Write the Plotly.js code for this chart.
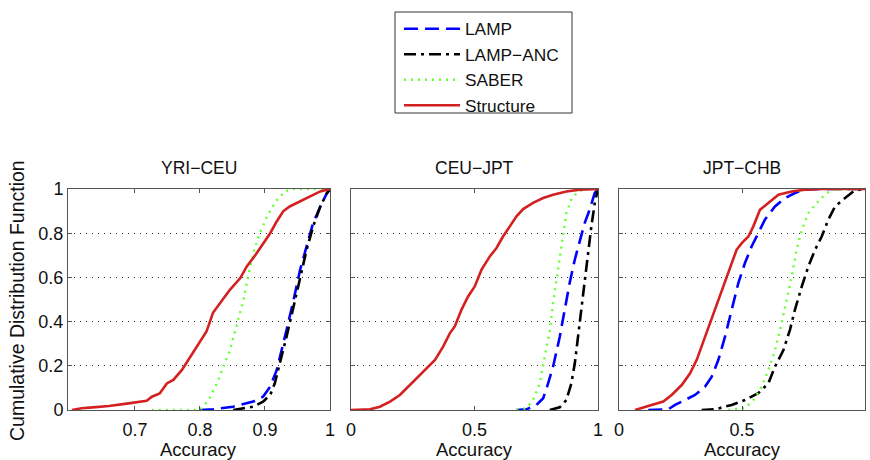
<!DOCTYPE html>
<html>
<head>
<meta charset="utf-8">
<script src="https://cdn.plot.ly/plotly-3.0.1.min.js"></script>
<style>html,body{margin:0;padding:0;background:#fff;}#chart{width:870px;height:460px;}</style>
</head>
<body>
<div id="chart"></div>
<script>
// ---- Data ----
const panelTitles = ["YRI\u2212CEU", "CEU\u2212JPT", "JPT\u2212CHB"];
const seriesNames = ["LAMP", "LAMP\u2212ANC", "SABER", "Structure"];

// Panel 1: YRI-CEU
const p1_lamp_x = [0.80,0.82,0.851,0.882,0.897,0.908,0.918,0.926,0.933,0.944,0.954,0.964,0.974,0.985,0.995,1.0];
const p1_lamp_y = [0,0.003,0.015,0.038,0.06,0.106,0.18,0.27,0.36,0.498,0.634,0.74,0.846,0.92,0.98,1.0];
const p1_anc_x = [0.851,0.882,0.897,0.908,0.915,0.923,0.933,0.944,0.954,0.964,0.974,0.985,0.995,1.0];
const p1_anc_y = [0,0.015,0.038,0.068,0.12,0.21,0.33,0.468,0.604,0.725,0.83,0.92,0.98,1.0];
const p1_saber_x = [0.726,0.80,0.813,0.826,0.836,0.846,0.856,0.867,0.874,0.882,0.892,0.903,0.918,0.931,0.944,1.0];
const p1_saber_y = [0,0,0.045,0.12,0.196,0.27,0.378,0.498,0.604,0.71,0.80,0.876,0.95,0.99,1.0,1.0];
const p1_struct_x = [0.603,0.618,0.635,0.66,0.69,0.718,0.726,0.738,0.749,0.759,0.772,0.785,0.797,0.81,0.82,0.831,0.846,0.862,0.872,0.885,0.897,0.908,0.918,0.928,0.938,0.954,0.969,0.985,1.0];
const p1_struct_y = [0,0.008,0.012,0.018,0.03,0.042,0.06,0.075,0.12,0.136,0.18,0.24,0.30,0.355,0.44,0.483,0.544,0.597,0.65,0.70,0.755,0.80,0.853,0.899,0.921,0.944,0.967,0.989,1.0];

// Panel 2: CEU-JPT
const p2_lamp_x = [0.67,0.71,0.751,0.778,0.798,0.818,0.845,0.865,0.885,0.906,0.926,0.946,0.966,0.987,1.0];
const p2_lamp_y = [0,0.003,0.023,0.053,0.12,0.196,0.33,0.453,0.574,0.68,0.77,0.846,0.906,0.982,1.0];
const p2_anc_x = [0.805,0.845,0.872,0.892,0.906,0.919,0.933,0.946,0.96,0.973,0.987,1.0];
const p2_anc_y = [0,0.012,0.045,0.12,0.21,0.33,0.468,0.604,0.725,0.83,0.937,1.0];
const p2_saber_x = [0.67,0.71,0.737,0.764,0.784,0.805,0.818,0.832,0.845,0.858,0.872,0.892,0.919,0.953,1.0];
const p2_saber_y = [0,0.008,0.045,0.12,0.24,0.36,0.483,0.589,0.695,0.80,0.891,0.952,0.989,1.0,1.0];
const p2_struct_x = [0,0.077,0.117,0.158,0.198,0.239,0.279,0.306,0.34,0.373,0.40,0.42,0.447,0.474,0.501,0.528,0.562,0.589,0.616,0.643,0.67,0.697,0.737,0.778,0.818,0.872,0.926,1.0];
const p2_struct_y = [0,0.003,0.015,0.038,0.068,0.113,0.159,0.189,0.227,0.287,0.347,0.378,0.453,0.514,0.559,0.634,0.695,0.733,0.786,0.831,0.876,0.909,0.937,0.959,0.974,0.989,0.997,1.0];

// Panel 3: JPT-CHB
const p3_lamp_x = [0.119,0.2,0.228,0.268,0.309,0.35,0.377,0.404,0.431,0.458,0.485,0.512,0.539,0.566,0.593,0.634,0.675,0.715,0.756,0.824,1.0];
const p3_lamp_y = [0,0.003,0.023,0.045,0.068,0.106,0.151,0.227,0.332,0.453,0.574,0.665,0.74,0.80,0.861,0.921,0.959,0.982,0.997,1.0,1.0];
const p3_anc_x = [0.336,0.39,0.458,0.512,0.566,0.607,0.634,0.668,0.695,0.715,0.743,0.77,0.797,0.824,0.851,0.878,0.919,0.953,0.986,1.0];
const p3_anc_y = [0,0.003,0.023,0.045,0.076,0.12,0.196,0.27,0.363,0.453,0.559,0.65,0.725,0.785,0.861,0.921,0.959,0.989,1.0,1.0];
const p3_saber_x = [0.444,0.512,0.546,0.58,0.607,0.634,0.661,0.682,0.702,0.722,0.743,0.77,0.804,0.837,0.864,1.0];
const p3_saber_y = [0,0.008,0.045,0.106,0.18,0.27,0.393,0.498,0.604,0.725,0.815,0.891,0.937,0.974,0.997,1.0];
const p3_struct_x = [0.065,0.106,0.146,0.18,0.214,0.255,0.289,0.316,0.343,0.377,0.404,0.424,0.451,0.478,0.499,0.526,0.546,0.573,0.607,0.648,0.702,0.756,0.824,1.0];
const p3_struct_y = [0,0.012,0.027,0.038,0.068,0.113,0.166,0.227,0.31,0.408,0.498,0.559,0.634,0.725,0.755,0.785,0.831,0.906,0.937,0.974,0.989,0.997,1.0,1.0];

const yTicks = [0, 0.2, 0.4, 0.6, 0.8, 1];
const yTickText = ["0", "0.2", "0.4", "0.6", "0.8", "1"];
const x1Ticks = [0.7, 0.8, 0.9, 1];
const x1TickText = ["0.7", "0.8", "0.9", "1"];
const x23Ticks = [0, 0.5, 1];
const x23TickText = ["0", "0.5", "1"];

// ---- Styles ----
const FONT = "Liberation Sans, Arial, Helvetica, sans-serif";
const styles = [
  {color: "#0000ff", dash: "14px,7px", width: 2.6},
  {color: "#000000", dash: "12px,5px,3px,5px", width: 2.6},
  {color: "#66ff33", dash: "2px,5px", width: 2.4},
  {color: "#d42020", dash: "solid", width: 2.6}
];

const panels = [
  [[p1_lamp_x,p1_lamp_y],[p1_anc_x,p1_anc_y],[p1_saber_x,p1_saber_y],[p1_struct_x,p1_struct_y]],
  [[p2_lamp_x,p2_lamp_y],[p2_anc_x,p2_anc_y],[p2_saber_x,p2_saber_y],[p2_struct_x,p2_struct_y]],
  [[p3_lamp_x,p3_lamp_y],[p3_anc_x,p3_anc_y],[p3_saber_x,p3_saber_y],[p3_struct_x,p3_struct_y]]
];

const traces = [];
panels.forEach((p, pi) => {
  p.forEach((s, si) => {
    traces.push({
      type: "scatter", mode: "lines",
      x: s[0], y: s[1],
      name: seriesNames[si],
      legendgroup: seriesNames[si],
      showlegend: pi === 0,
      xaxis: pi === 0 ? "x" : "x" + (pi + 1),
      yaxis: pi === 0 ? "y" : "y" + (pi + 1),
      line: {color: styles[si].color, dash: styles[si].dash, width: styles[si].width},
      hoverinfo: "skip"
    });
  });
});

const W = 870, H = 460;
const xDomains = [[68/W, 330/W], [351/W, 598/W], [619/W, 865/W]];
const yDomain = [(H-410)/H, (H-189)/H];

function xaxisDef(i) {
  return {
    domain: xDomains[i],
    range: i === 0 ? [0.597, 1] : [0, 1],
    tickvals: i === 0 ? x1Ticks : x23Ticks,
    ticktext: i === 0 ? x1TickText : x23TickText,
    ticks: "inside", ticklen: 4, tickcolor: "#555",
    showline: true, linecolor: "#555", linewidth: 1, mirror: "ticks",
    showgrid: false, zeroline: false,
    tickfont: {family: FONT, size: 18, color: "#111"},
    ticklabelstandoff: 3,
    anchor: i === 0 ? "y" : "y" + (i + 1)
  };
}
function yaxisDef(i) {
  return {
    domain: yDomain,
    range: [0, 1],
    tickvals: yTicks, ticktext: yTickText,
    showticklabels: i === 0,
    ticks: "inside", ticklen: 4, tickcolor: "#555",
    showline: true, linecolor: "#555", linewidth: 1, mirror: "ticks",
    showgrid: true, gridcolor: "#333", griddash: "1px,5px", gridwidth: 1,
    zeroline: false,
    tickfont: {family: FONT, size: 18, color: "#111"},
    anchor: i === 0 ? "x" : "x" + (i + 1)
  };
}

const annotations = [];
panelTitles.forEach((t, i) => {
  annotations.push({
    text: t, xref: "paper", yref: "paper",
    x: (xDomains[i][0] + xDomains[i][1]) / 2, y: (H - 168) / H,
    xanchor: "center", yanchor: "middle", showarrow: false,
    font: {family: FONT, size: 17.5, color: "#111"}
  });
  annotations.push({
    text: "Accuracy", xref: "paper", yref: "paper",
    x: (xDomains[i][0] + xDomains[i][1]) / 2, y: (H - 449) / H,
    xanchor: "center", yanchor: "middle", showarrow: false,
    font: {family: FONT, size: 18.5, color: "#111"}
  });
});
annotations.push({
  text: "Cumulative Distribution Function", xref: "paper", yref: "paper",
  x: 17 / W, y: (H - 301) / H, textangle: -90,
  xanchor: "center", yanchor: "middle", showarrow: false,
  font: {family: FONT, size: 19.5, color: "#111"}
});

const layout = {
  width: W, height: H,
  margin: {l: 0, r: 0, t: 0, b: 0},
  paper_bgcolor: "#fff", plot_bgcolor: "#fff",
  showlegend: true,
  legend: {
    x: 399 / W, y: (H - 11) / H, xanchor: "left", yanchor: "top",
    borderwidth: 0, bgcolor: "rgba(0,0,0,0)",
    font: {family: FONT, size: 17.3, color: "#111"},
    itemwidth: 56, tracegroupgap: 0
  },
  shapes: [{
    type: "rect", xref: "paper", yref: "paper",
    x0: 395 / W, x1: 572 / W, y0: (H - 113) / H, y1: (H - 12) / H,
    line: {color: "#333", width: 1}, fillcolor: "rgba(0,0,0,0)"
  }],
  xaxis: xaxisDef(0), yaxis: yaxisDef(0),
  xaxis2: xaxisDef(1), yaxis2: yaxisDef(1),
  xaxis3: xaxisDef(2), yaxis3: yaxisDef(2),
  annotations: annotations
};

Plotly.newPlot("chart", traces, layout, {staticPlot: true, displayModeBar: false});
</script>
</body>
</html>
